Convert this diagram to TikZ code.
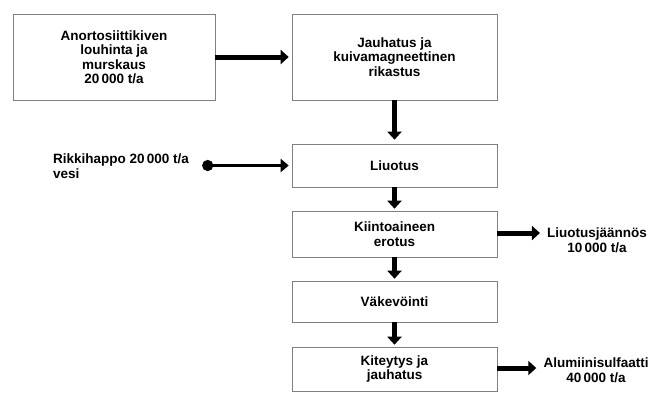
\documentclass[tikz,border=0pt]{standalone}
\usepackage{fontspec}
\setmainfont{Liberation Sans}
\usetikzlibrary{arrows.meta}

\tikzset{
  vaihe/.style={draw=black!50, line width=0.6pt, align=center, inner sep=2pt,
    font=\fontsize{13.5}{14.5}\selectfont\bfseries},
  tuote/.style={align=center, inner sep=1pt, font=\fontsize{13.5}{14.5}\selectfont\bfseries},
  virta/.style={line width=5pt, -{Triangle[length=8pt,width=14pt]}},
  syotto/.style={line width=3.5pt, {Circle[length=11pt]}-{Triangle[length=8pt,width=13pt]}}
}

\begin{document}
\begin{tikzpicture}[x=1pt,y=-1pt]
\useasboundingbox (0,0) rectangle (668,392);
\node [vaihe, minimum width=202pt, minimum height=86pt] (louhinta) at (114,57) {Anortosiittikiven\\louhinta ja\\murskaus\\20\,000 t/a};
\node [vaihe, minimum width=205pt, minimum height=86pt] (jauhatus) at (394.5,57) {Jauhatus ja\\kuivamagneettinen\\rikastus};
\node [vaihe, minimum width=205pt, minimum height=43pt] (liuotus) at (394.5,165.5) {Liuotus};
\node [vaihe, minimum width=205pt, minimum height=46pt] (erotus) at (394.5,234) {Kiintoaineen\\erotus};
\node [vaihe, minimum width=205pt, minimum height=41pt] (vakevointi) at (394.5,301.5) {Väkevöinti};
\node [vaihe, minimum width=205pt, minimum height=44pt] (kiteytys) at (394.5,369) {Kiteytys ja\\jauhatus};

\node [tuote, align=left, anchor=west] (happo) at (52,166) {Rikkihappo 20\,000 t/a\\vesi};
\node [tuote] (jaannos) at (597,240) {Liuotusjäännös\\10\,000 t/a};
\node [tuote] (sulfaatti) at (596,370) {Alumiinisulfaatti\\40\,000 t/a};

\draw [virta, shorten >=3pt] (louhinta) -- (jauhatus);
\draw [virta, shorten >=4pt] (jauhatus) -- (liuotus);
\draw [virta, shorten >=2pt] (liuotus) -- (erotus);
\draw [virta, shorten >=2pt] (erotus) -- (vakevointi);
\draw [virta, shorten >=2pt] (vakevointi) -- (kiteytys);
\draw [syotto, shorten <=12pt, shorten >=3pt] (happo.east |- liuotus) -- (liuotus);
\draw [virta, shorten >=6pt] (erotus.east |- 0,233) -- (jaannos.west |- 0,233);
\draw [virta, shorten >=6pt] (kiteytys.east |- 0,368) -- (sulfaatti.west |- 0,368);
\end{tikzpicture}
\end{document}
